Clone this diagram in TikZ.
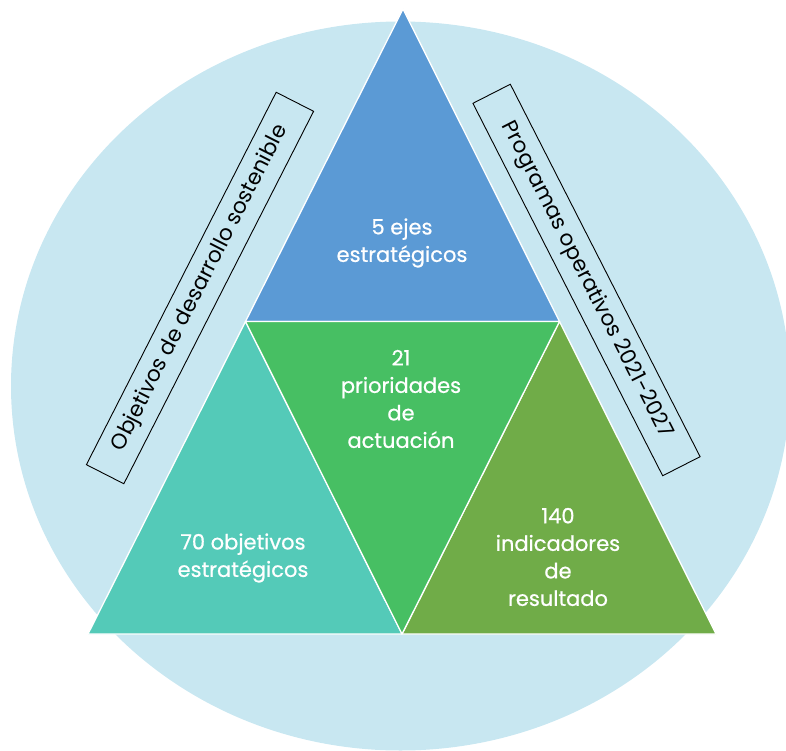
\documentclass[tikz,border=0pt]{standalone}
\usepackage{fontspec}
\setmainfont{Poppins}
\newfontfamily\lblfont[FakeBold=0.7]{Poppins}
\definecolor{bgc}{HTML}{C8E7F1}
\definecolor{tblue}{HTML}{5B9AD5}
\definecolor{tteal}{HTML}{54CAB8}
\definecolor{tgreen}{HTML}{47BF63}
\definecolor{tolive}{HTML}{70AC48}
\begin{document}
\begin{tikzpicture}[x=1pt,y=-1pt,
  lbl/.style={text=white,align=center,inner sep=0pt,font=\lblfont\fontsize{21}{27.5}\selectfont},
  sidebox/.style={draw=black,line width=0.9pt,minimum width=418pt,minimum height=42pt,inner sep=0pt,font=\fontsize{21.5}{24}\selectfont},
  tri/.style={draw=white,line width=1.3pt,line join=round}]
\useasboundingbox (0,0) rectangle (786,751);
\clip (0,0) rectangle (786,751);
\fill[bgc] (400.5,386) ellipse [x radius=389.5, y radius=364.5];
\coordinate (A) at (403,9);
\coordinate (L) at (88,634);
\coordinate (R) at (716,634);
\coordinate (ML) at (245.5,321.5);
\coordinate (MR) at (559.5,321.5);
\coordinate (MB) at (402,634);
\filldraw[tri,fill=tblue] (A) -- (MR) -- (ML) -- cycle;
\filldraw[tri,fill=tteal] (ML) -- (MB) -- (L) -- cycle;
\filldraw[tri,fill=tolive] (MR) -- (R) -- (MB) -- cycle;
\filldraw[tri,fill=tgreen] (ML) -- (MR) -- (MB) -- cycle;
\node[lbl] (ejes) at (402,243) {5 ejes\\estratégicos};
\node[lbl] (prio) at (401,399) {21\\prioridades\\de\\actuación};
\node[lbl] (obj) at (243,558) {70 objetivos\\estratégicos};
\node[lbl] (ind) at (558,557) {140\\indicadores\\de\\resultado};
\node[sidebox,rotate=63] (ods) at (200,288) {Objetivos de desarrollo sostenible};
\node[sidebox,rotate=-63] (prog) at (586.5,280) {Programas operativos 2021-2027};
\end{tikzpicture}
\end{document}
